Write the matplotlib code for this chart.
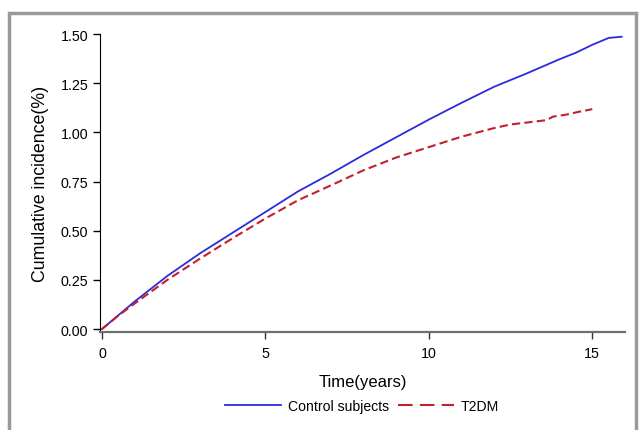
import matplotlib.pyplot as plt
from matplotlib.patches import Rectangle
from matplotlib.lines import Line2D

plt.rcParams['font.family'] = ['Liberation Sans', 'DejaVu Sans']

# cumulative incidence (%)
years_ctrl = [0, 0.5, 1, 1.5, 2, 3, 4, 5, 6, 7, 8, 9, 10, 11, 12, 13, 14, 14.5, 15, 15.5, 15.9]
inc_ctrl = [0, 0.07, 0.14, 0.205, 0.27, 0.385, 0.49, 0.595, 0.70, 0.79, 0.885, 0.975, 1.065,
            1.15, 1.232, 1.30, 1.372, 1.405, 1.445, 1.48, 1.486]

years_t2dm = [0, 0.5, 1, 1.5, 2, 3, 4, 5, 6, 7, 8, 9, 10, 11, 12, 12.5, 13, 13.6, 13.8,
              14.2, 14.6, 15.0]
inc_t2dm = [0, 0.068, 0.13, 0.19, 0.25, 0.358, 0.462, 0.562, 0.655, 0.73, 0.807, 0.872,
            0.925, 0.978, 1.022, 1.04, 1.05, 1.062, 1.08, 1.09, 1.105, 1.118]

labels = ["Control subjects", "T2DM"]
x_ticks = [0, 5, 10, 15]
y_ticks = [0.00, 0.25, 0.50, 0.75, 1.00, 1.25, 1.50]

blue = '#2b2bdc'
red = '#c2202e'

fig = plt.figure(figsize=(6.39, 4.31), dpi=100)

# grey frame around the figure (open at the bottom)
fig.patches.append(Rectangle((9 / 639, -0.05), 627 / 639, 1.05 - 14 / 431,
                             transform=fig.transFigure, fill=False,
                             edgecolor='#9a9a9a', linewidth=2.5))

ax = fig.add_axes([100 / 639, 1 - 333 / 431, 525 / 639, (333 - 35) / 431])
ax.plot(years_ctrl, inc_ctrl, color=blue, lw=1.3)
ax.plot(years_t2dm, inc_t2dm, color=red, lw=1.5, dashes=(4, 2))

ax.set_xlim(-0.06, 16.0)
ax.set_ylim(-0.015, 1.5)
ax.set_xticks(x_ticks)
ax.set_yticks(y_ticks)
ax.set_yticklabels([f"{v:.2f}" for v in y_ticks])
ax.tick_params(labelsize=10.3, length=5, width=1)
ax.tick_params(axis='x', colors='#333333', labelcolor='black', pad=5)
for s in ['top', 'right']:
    ax.spines[s].set_visible(False)
ax.spines['bottom'].set_color('#6e6e6e')
ax.spines['bottom'].set_linewidth(1.6)

ax.set_xlabel('Time(years)', fontsize=12, labelpad=10)
ax.set_ylabel('Cumulative incidence(%)', fontsize=12.8, labelpad=8)

# legend handles with the longer dashes seen in the reference legend
h1 = Line2D([], [], color=blue, lw=1.3)
h2 = Line2D([], [], color=red, lw=1.5, dashes=(7, 3.5))
fig.legend([h1, h2], labels, loc='center', bbox_to_anchor=(362 / 639, 1 - 407 / 431),
           ncol=2, frameon=False, fontsize=10.1, handlelength=4, columnspacing=0.6,
           handletextpad=0.5)

plt.savefig('out.png', dpi=100)
